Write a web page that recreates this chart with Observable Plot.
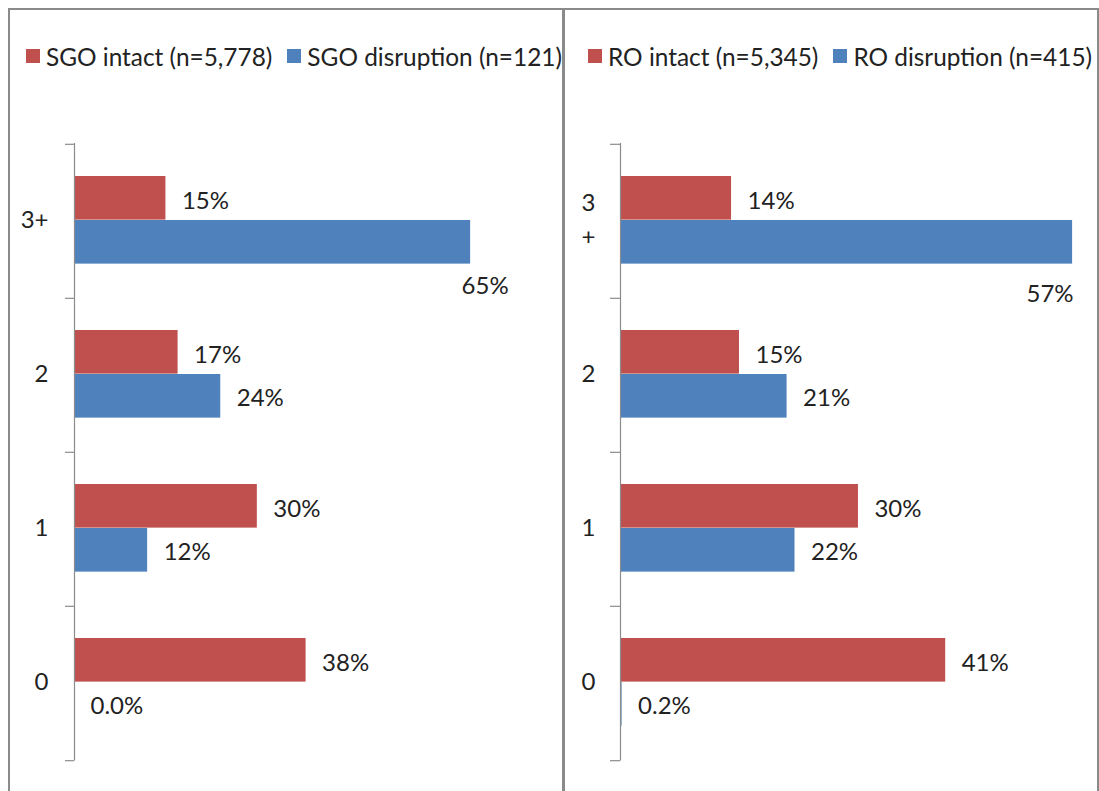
<!DOCTYPE html>
<html><head><meta charset="utf-8">
<script src="https://cdn.jsdelivr.net/npm/d3@7"></script>
<script src="https://cdn.jsdelivr.net/npm/@observablehq/plot@0.6"></script>
<style>
html,body{margin:0;padding:0;background:#fff;overflow:hidden}
#root{position:relative;width:1099px;height:791px;overflow:hidden;font-family:Lato,sans-serif;color:#222}
.panel{position:absolute;top:8px;height:820px;border:2px solid #8a8a8a;border-bottom:none;box-sizing:border-box;pointer-events:none;z-index:2}
.legend{position:absolute;top:42px;height:28px;display:flex;align-items:center;font-size:24.4px;white-space:nowrap}
.item{display:flex;align-items:center;margin-right:15px}
.sw{width:14px;height:14px;margin-right:6px}
.plot{position:absolute;top:100px}
</style></head><body><div id="root"></div>
<script>
const categories = ["3+", "2", "1", "0"];
const leftCategoryLabels = ["3+", "2", "1", "0"];
const rightCategoryLabels = ["3\n+", "2", "1", "0"];

const leftSeries = ["SGO intact (n=5,778)", "SGO disruption (n=121)"];
const leftIntact = [15, 17, 30, 38];
const leftDisruption = [65, 24, 12, 0];
const leftIntactLabels = ["15%", "17%", "30%", "38%"];
const leftDisruptionLabels = ["65%", "24%", "12%", "0.0%"];

const rightSeries = ["RO intact (n=5,345)", "RO disruption (n=415)"];
const rightIntact = [14, 15, 30, 41];
const rightDisruption = [57, 21, 22, 0.2];
const rightIntactLabels = ["14%", "15%", "30%", "41%"];
const rightDisruptionLabels = ["57%", "21%", "22%", "0.2%"];

const colors = ["#C0504D", "#4F81BD"];
const textColor = "#222";
const axisColor = "#8c8c8c";
const FS = 24;

function rows(vals, labels) {
  return categories.map((c, i) => ({cat: c, value: vals[i], label: labels[i]}));
}

function panel(cfg) {
  const H = 691, mt = 43, mb = 30.5;
  const step = (H - mt - mb) / categories.length;
  const intact = rows(cfg.intact, cfg.intactLabels);
  const disr = rows(cfg.disruption, cfg.disruptionLabels);
  const maxV = d3.max(disr, d => d.value);
  const disrNormal = disr.filter(d => d.value !== maxV);
  const disrMax = disr.filter(d => d.value === maxV);
  return Plot.plot({
    width: cfg.width, height: H,
    marginLeft: cfg.marginLeft, marginRight: cfg.marginRight, marginTop: mt, marginBottom: mb,
    style: {fontFamily: "Lato, sans-serif", fontSize: FS + "px", background: "transparent", overflow: "visible"},
    x: {domain: cfg.xDomain, axis: null},
    y: {domain: categories, axis: null, padding: 0},
    marks: [
      Plot.barX(intact, {x: "value", y: "cat", fill: colors[0], insetTop: 32, insetBottom: step - 76}),
      Plot.barX(disr, {x: "value", y: "cat", fill: colors[1], insetTop: 76, insetBottom: step - 120}),
      Plot.ruleX([0], {stroke: axisColor, strokeWidth: 1.2}),
      Plot.ruleY(categories, {y: d => d, x1: 0, x2: 0, insetLeft: -cfg.tick, dy: -step / 2, stroke: axisColor, strokeWidth: 1.2}),
      Plot.ruleY(categories.slice(-1), {y: d => d, x1: 0, x2: 0, insetLeft: -cfg.tick, dy: step / 2, stroke: axisColor, strokeWidth: 1.2}),
      Plot.text(categories, {y: d => d, x: 0, text: (d, i) => cfg.catLabels[i], textAnchor: "end", dx: cfg.catDx, dy: -4, fontSize: FS, lineHeight: 1.4, fill: textColor}),
      Plot.text(intact, {x: "value", y: "cat", text: "label", textAnchor: "start", dx: 16, dy: -20, fontSize: FS, fill: textColor}),
      Plot.text(disrNormal, {x: "value", y: "cat", text: "label", textAnchor: "start", dx: 16, dy: 23, fontSize: FS, fill: textColor}),
      Plot.text(disrMax, {x: "value", y: "cat", text: "label", textAnchor: "end", dx: cfg.maxDx, dy: cfg.maxDy, fontSize: FS, fill: textColor})
    ]
  });
}

function legend(names, left) {
  const div = document.createElement("div");
  div.className = "legend";
  div.style.left = left + "px";
  names.forEach((n, i) => {
    const it = document.createElement("div");
    it.className = "item";
    const sw = document.createElement("span");
    sw.className = "sw";
    sw.style.background = colors[i];
    const tx = document.createElement("span");
    tx.textContent = n;
    it.append(sw, tx);
    div.append(it);
  });
  return div;
}

const root = document.getElementById("root");

const p1 = document.createElement("div");
p1.className = "panel"; p1.style.left = "8px"; p1.style.width = "556px";
const p2 = document.createElement("div");
p2.className = "panel"; p2.style.left = "563px"; p2.style.width = "536px";
root.append(p1, p2);

root.append(legend(leftSeries, 26));
root.append(legend(rightSeries, 588));

const s1 = panel({
  width: 563, marginLeft: 74, marginRight: 62.4, xDomain: [0, 70], tick: 9, catDx: -26,
  intact: leftIntact, intactLabels: leftIntactLabels,
  disruption: leftDisruption, disruptionLabels: leftDisruptionLabels,
  catLabels: leftCategoryLabels, maxDx: 38, maxDy: 65
});
s1.classList.add("plot"); s1.style.left = "0px";
root.append(s1);

const s2 = panel({
  width: 535, marginLeft: 56, marginRight: 3.1, xDomain: [0, 60], tick: 10, catDx: -25,
  intact: rightIntact, intactLabels: rightIntactLabels,
  disruption: rightDisruption, disruptionLabels: rightDisruptionLabels,
  catLabels: rightCategoryLabels, maxDx: 1, maxDy: 73
});
s2.classList.add("plot"); s2.style.left = "564px";
root.append(s2);
</script></body></html>
